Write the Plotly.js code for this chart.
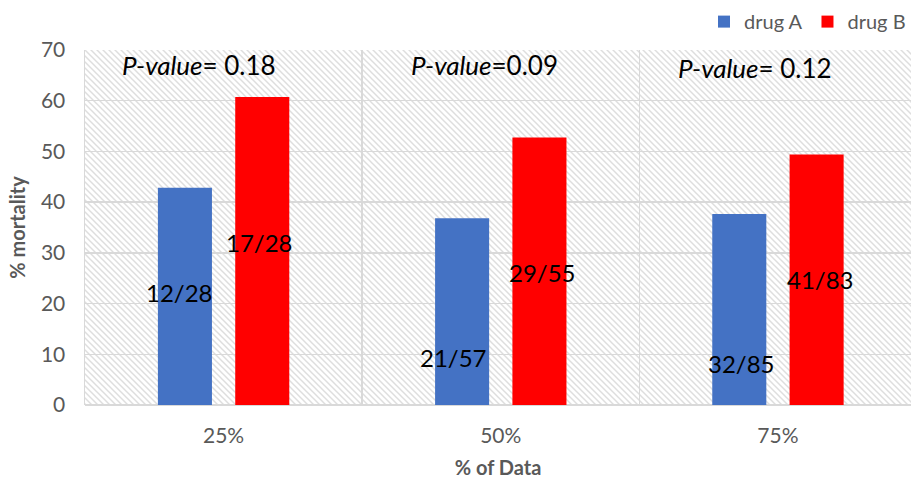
<!DOCTYPE html>
<html><head><meta charset="utf-8">
<script src="https://cdn.plot.ly/plotly-3.0.1.min.js"></script>
<style>html,body{margin:0;padding:0;background:#fff}</style>
</head><body>
<div id="chart" style="width:911px;height:480px"></div>
<script>
var categories = ['25%', '50%', '75%'];
var drugA = [42.86, 36.84, 37.65];
var drugB = [60.71, 52.73, 49.40];
var labelsA = ['12/28', '21/57', '32/85'];
var labelsB = ['17/28', '29/55', '41/83'];
var pValues = ['0.18', '0.09', '0.12'];
var pSep = ['= ', '=', '= '];
var yMax = 70;

// layout-only placement constants
var labelPosA = [[-0.16, 22.1], [-0.17, 9.3], [-0.13, 8.1]];
var labelPosB = [[0.13, 32.1], [0.15, 26.2], [0.155, 24.7]];
var pPos = [[-0.087, 67.0], [-0.06, 67.0], [-0.083, 66.4]];

var idx = categories.map(function(c, i){ return i; });
var gray = '#595959';
var font = 'Lato, "Open Sans", sans-serif';

var hatchSvg = '<svg xmlns="http://www.w3.org/2000/svg" width="826" height="355">' +
  '<defs><pattern id="p" width="6" height="6" patternUnits="userSpaceOnUse">' +
  '<path d="M-1,-1 L7,7 M-1,5 L1,7 M5,-1 L7,1" stroke="#dedede" stroke-width="1.5"/></pattern></defs>' +
  '<rect width="826" height="355" fill="white"/><rect width="826" height="355" fill="url(#p)"/></svg>';
var hatchUri = 'data:image/svg+xml;charset=utf-8,' + encodeURIComponent(hatchSvg);

var traces = [
  {type:'bar', name:'drug A', x: idx, y: drugA, width:0.195, offset:-0.237,
   marker:{color:'#4472C4', line:{width:0}}, hoverinfo:'skip'},
  {type:'bar', name:'drug B', x: idx, y: drugB, width:0.195, offset:0.042,
   marker:{color:'#FF0000', line:{width:0}}, hoverinfo:'skip'}
];

var annotations = [];
idx.forEach(function(i){
  annotations.push({x: i + labelPosA[i][0], y: labelPosA[i][1], xref:'x', yref:'y', text: labelsA[i], showarrow:false,
    font:{size:24, color:'#000', family:font}});
  annotations.push({x: i + labelPosB[i][0], y: labelPosB[i][1], xref:'x', yref:'y', text: labelsB[i], showarrow:false,
    font:{size:24, color:'#000', family:font}});
  annotations.push({x: i + pPos[i][0], y: pPos[i][1], xref:'x', yref:'y', text: '<i>P-value</i>' + pSep[i] + pValues[i], showarrow:false,
    font:{size:26, color:'#000', family:font}});
});

var layout = {
  width:911, height:480,
  margin:{l:85, r:0, t:50, b:75},
  paper_bgcolor:'white', plot_bgcolor:'white',
  barmode:'overlay',
  font:{family:font, color:gray},
  showlegend:true,
  legend:{orientation:'h', x:1, xanchor:'right', y:1.08, yanchor:'middle',
    font:{size:20, color:gray}, traceorder:'normal'},
  images:[{source: hatchUri, xref:'paper', yref:'paper', x:0, y:1, sizex:1, sizey:1,
    sizing:'stretch', xanchor:'left', yanchor:'top', layer:'below'}],
  xaxis:{range:[-0.5, 2.48], tickvals: idx, ticktext: categories, showgrid:false, zeroline:false,
    ticks:'', tickfont:{size:21, color:gray}, ticklabelstandoff:16,
    minor:{tick0:0.5, dtick:1, showgrid:true, gridcolor:'#d9d9d9', gridwidth:1.5, ticks:''},
    showline:false,
    title:{text:'<b>% of Data</b>', font:{size:20, color:gray}, standoff:14}},
  yaxis:{range:[0, yMax], dtick:10, showgrid:true, gridcolor:'#d9d9d9', gridwidth:1.5, zeroline:true,
    zerolinecolor:'#d9d9d9', zerolinewidth:1.5, ticks:'', tickfont:{size:21, color:gray}, ticklabelstandoff:14,
    showline:true, linecolor:'#d9d9d9', linewidth:1.5,
    title:{text:'<b>% mortality</b>', font:{size:20, color:gray}, standoff:10}},
  annotations: annotations
};

Plotly.newPlot('chart', traces, layout, {displayModeBar:false, staticPlot:true});
</script>
</body></html>
